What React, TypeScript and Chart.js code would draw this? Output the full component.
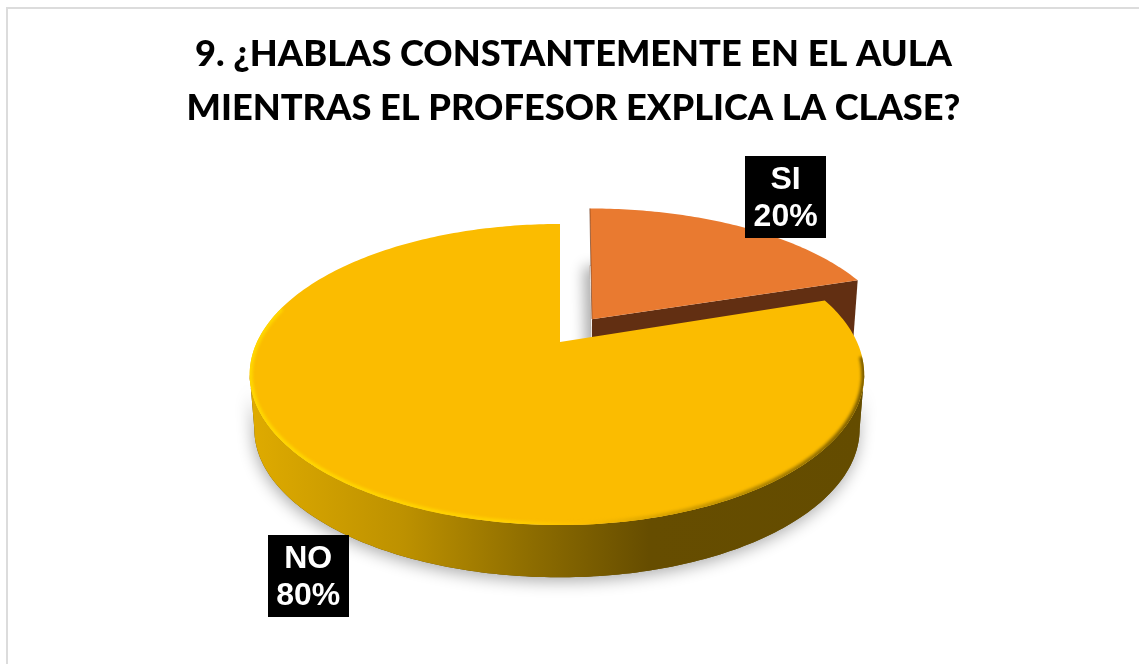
import React, { useEffect, useRef } from "react";
import { Chart, registerables } from "chart.js";

Chart.register(...registerables);

const categories = ["SI", "NO"];
const percentages = [20, 80];
const titleLines = [
  "9. ¿HABLAS CONSTANTEMENTE EN EL AULA",
  "MIENTRAS EL PROFESOR EXPLICA LA CLASE?",
];
const sliceColors = ["#E97A30", "#FBBC00"];

// view of the tilted disc
const VIEW = { cx: 560, cy: 342, aLeft: 303, aRight: 297, b: 143.5, k: 0.216 };
const DEPTH = { shift: 55, shrink: 0.985 };
const EXPLODE = [
  { eu: 0.04, ev: -0.165, dx: 20, scale: 1.04 },
  { eu: 0, ev: 0, dx: 0, scale: 1 },
];
const LABEL_NUDGE = [{ x: 77, y: -46 }, { x: -36, y: 93 }];

type Pt = { x: number; y: number };

function project(u: number, v: number, bottom: boolean): Pt {
  const w = 1 - VIEW.k * v;
  const s = bottom ? DEPTH.shrink : 1;
  const a = u < 0 ? VIEW.aLeft : VIEW.aRight;
  return {
    x: VIEW.cx + (a * u * s) / w,
    y: VIEW.cy + (VIEW.b * v * s) / w + (bottom ? DEPTH.shift : 0),
  };
}

function point(angle: number, radius: number, idx: number, bottom: boolean): Pt {
  const ex = EXPLODE[idx];
  const u = radius * Math.cos(angle) + ex.eu;
  const v = radius * Math.sin(angle) + ex.ev;
  const p = project(u, v, bottom);
  return { x: VIEW.cx + (p.x - VIEW.cx) * ex.scale + ex.dx, y: p.y };
}

function arcPoints(start: number, end: number, idx: number, bottom: boolean): Pt[] {
  const n = Math.max(4, Math.ceil(Math.abs(end - start) * 60));
  const pts: Pt[] = [];
  for (let i = 0; i <= n; i++) {
    pts.push(point(start + ((end - start) * i) / n, 1, idx, bottom));
  }
  return pts;
}

function tracePoly(ctx: CanvasRenderingContext2D, pts: Pt[]) {
  ctx.beginPath();
  pts.forEach((p, i) => (i ? ctx.lineTo(p.x, p.y) : ctx.moveTo(p.x, p.y)));
  ctx.closePath();
}

const pie3d = {
  id: "pie3d",
  beforeDraw(chart: any) {
    const ctx = chart.ctx as CanvasRenderingContext2D;
    ctx.save();
    ctx.fillStyle = "#fff";
    ctx.fillRect(0, 0, chart.width, chart.height);
    ctx.fillStyle = "#DCDCDC";
    ctx.fillRect(6, 7, chart.width - 6, 2);
    ctx.fillRect(6, 7, 2, chart.height - 7);
    ctx.restore();
  },
  beforeDatasetDraw(chart: any) {
    const ctx = chart.ctx as CanvasRenderingContext2D;
    const arcs = chart.getDatasetMeta(0).data.map((el: any) =>
      el.getProps(["startAngle", "endAngle"], true)
    );

    // --- SI slice (behind)
    {
      const { startAngle: s, endAngle: e } = arcs[0];
      const topArc = arcPoints(s, e, 0, false);
      const apex = point(0, 0, 0, false);
      const apexB = point(0, 0, 0, true);
      const cornerB = point(e, 1, 0, true);
      const corner = topArc[topArc.length - 1];
      // soft shadow cast by the slice's base
      ctx.save();
      ctx.shadowColor = "rgba(0,0,0,0.33)";
      ctx.shadowBlur = 14;
      ctx.shadowOffsetX = -6;
      ctx.shadowOffsetY = 1;
      ctx.fillStyle = "#622F12";
      tracePoly(ctx, [apexB, ...arcPoints(s, e, 0, true)]);
      ctx.fill();
      ctx.restore();
      ctx.fillStyle = "#fff";
      tracePoly(ctx, [apexB, ...arcPoints(s, e, 0, true)]);
      ctx.fill();
      ctx.fillStyle = "#622F12";
      tracePoly(ctx, [apex, corner, cornerB, apexB]);
      ctx.fill();
      ctx.fillStyle = sliceColors[0];
      tracePoly(ctx, [apex, ...topArc]);
      ctx.fill();
      ctx.save();
      ctx.strokeStyle = "rgba(98,47,18,0.6)";
      ctx.lineWidth = 1;
      ctx.beginPath();
      ctx.moveTo(topArc[0].x, topArc[0].y);
      ctx.lineTo(apex.x, apex.y);
      ctx.stroke();
      ctx.restore();
    }

    // --- NO slice
    {
      const { startAngle: s, endAngle: e } = arcs[1];
      const topArc = arcPoints(s, e, 1, false);
      const apex = point(0, 0, 1, false);

      // the wall runs between the two side extremes of the disc, round the near side
      const extreme = Math.asin(VIEW.k);
      const topWall = arcPoints(extreme, Math.PI - extreme, 1, false);
      const botWall = arcPoints(extreme, Math.PI - extreme, 1, true).reverse();

      const gradient = ctx.createLinearGradient(250, 0, 864, 0);
      gradient.addColorStop(0, "#DFAB00");
      gradient.addColorStop(0.25, "#BD9100");
      gradient.addColorStop(0.45, "#8F6E00");
      gradient.addColorStop(0.65, "#664D00");
      gradient.addColorStop(1, "#644C00");

      // ground shadow
      ctx.save();
      ctx.shadowColor = "rgba(0,0,0,0.33)";
      ctx.shadowBlur = 16;
      ctx.shadowOffsetY = 4;
      ctx.shadowOffsetX = -1;
      ctx.fillStyle = "#644C00";
      tracePoly(ctx, [...topWall, ...botWall]);
      ctx.fill();
      ctx.restore();

      ctx.fillStyle = gradient;
      tracePoly(ctx, [...topWall, ...botWall]);
      ctx.fill();

      // top face
      ctx.fillStyle = sliceColors[1];
      tracePoly(ctx, [apex, ...topArc]);
      ctx.fill();

      // bevel along the rim
      ctx.save();
      tracePoly(ctx, [apex, ...topArc]);
      ctx.clip();
      (ctx as any).filter = "blur(1.5px)";
      const rim = ctx.createLinearGradient(250, 0, 864, 0);
      rim.addColorStop(0, "#FFD800");
      rim.addColorStop(0.42, "#FFD000");
      rim.addColorStop(0.55, "#FBBC00");
      rim.addColorStop(0.8, "#B68A00");
      rim.addColorStop(1, "#7A5C00");
      ctx.strokeStyle = rim;
      ctx.lineWidth = 6;
      ctx.beginPath();
      arcPoints(0.1, Math.PI * 1.08, 1, false).forEach((p, i) =>
        i ? ctx.lineTo(p.x, p.y) : ctx.moveTo(p.x, p.y)
      );
      ctx.stroke();
      ctx.restore();
    }
    return false;
  },
  afterDatasetsDraw(chart: any) {
    const ctx = chart.ctx as CanvasRenderingContext2D;
    const boxW = 81;
    const boxH = 82;
    chart.getDatasetMeta(0).data.forEach((el: any, i: number) => {
      const { startAngle: s, endAngle: e } = el.getProps(["startAngle", "endAngle"], true);
      const m = (s + e) / 2;
      const u = project(Math.cos(m), Math.sin(m), false);
      const cx = u.x + LABEL_NUDGE[i].x;
      const cy = u.y + LABEL_NUDGE[i].y;
      ctx.save();
      ctx.fillStyle = "#000";
      ctx.fillRect(Math.round(cx - boxW / 2), Math.round(cy - boxH / 2), boxW, boxH);
      ctx.fillStyle = "#fff";
      ctx.font = "bold 32px 'Liberation Sans', Arial, sans-serif";
      ctx.textAlign = "center";
      ctx.textBaseline = "alphabetic";
      ctx.fillText(categories[i], cx, cy - 8);
      ctx.fillText(`${percentages[i]}%`, cx, cy + 29);
      ctx.restore();
    });
  },
};

export default function App() {
  const ref = useRef<HTMLCanvasElement>(null);
  useEffect(() => {
    document.body.style.margin = "0";
    const chart = new Chart(ref.current as HTMLCanvasElement, {
      type: "pie",
      data: {
        labels: categories,
        datasets: [{ data: percentages, backgroundColor: sliceColors, borderWidth: 0 }],
      },
      plugins: [pie3d],
      options: {
        responsive: false,
        animation: false,
        layout: { padding: { left: 8, top: 28 } },
        plugins: {
          legend: { display: false },
          tooltip: { enabled: false },
          title: {
            display: true,
            text: titleLines,
            color: "#000",
            font: { family: "Lato, 'Open Sans', sans-serif", size: 36.2, weight: "900", lineHeight: 1.48 },
            padding: { top: 0, bottom: 0 },
          },
        },
      },
    } as any);
    return () => chart.destroy();
  }, []);
  return (
    <canvas
      ref={ref}
      width={1139}
      height={664}
      style={{ display: "block", position: "absolute", left: 0, top: 0, width: 1139, height: 664 }}
    />
  );
}
